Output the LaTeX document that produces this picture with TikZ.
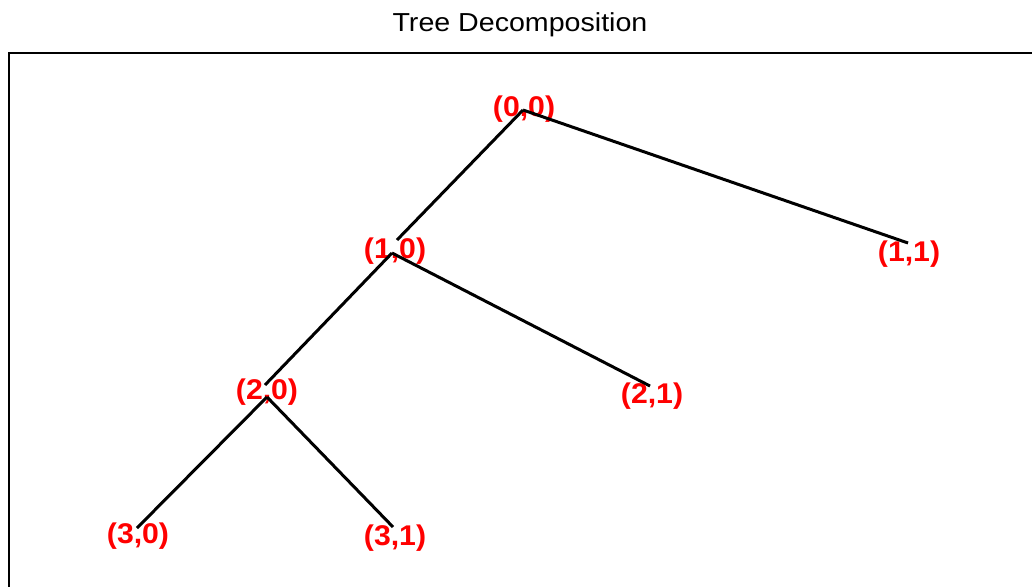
\documentclass[tikz,border=0pt]{standalone}
\usepackage{fontspec}
\usepackage{graphicx}
\setmainfont{Liberation Sans}
\tikzset{
  lbl/.style={text=red, inner sep=0pt, anchor=center, font=\bfseries\fontsize{28.5}{28.5}\selectfont},
  edge/.style={black, line width=3pt},
  frame/.style={black, line width=1.5pt},
  ttl/.style={inner sep=0pt, anchor=base, font=\fontsize{26}{26}\selectfont}
}
\begin{document}
\begin{tikzpicture}[x=1pt,y=-1pt]
\useasboundingbox (0,0) rectangle (1032,586);
\clip (0,0) rectangle (1032,586);
\fill[white] (0,0) rectangle (1032,586);
\node[ttl] (title) at (520,32) {\scalebox{1.1}[1]{Tree Decomposition}};
\coordinate (ftl) at (9,53);
\coordinate (ftr) at (1040,53);
\coordinate (fbl) at (9,600);
\draw[frame] (ftr) -- (ftl) -- (fbl);
% labels
\node[lbl] (l00) at (524,109.5) {\scalebox{1.06}[1]{(0,0)}};
\node[lbl] (l10) at (395,251.5) {\scalebox{1.06}[1]{(1,0)}};
\node[lbl] (l11) at (909,254.5) {\scalebox{1.06}[1]{(1,1)}};
\node[lbl] (l20) at (267,392.5) {\scalebox{1.06}[1]{(2,0)}};
\node[lbl] (l21) at (652,396.5) {\scalebox{1.06}[1]{(2,1)}};
\node[lbl] (l30) at (138,536.5) {\scalebox{1.06}[1]{(3,0)}};
\node[lbl] (l31) at (395,538.5) {\scalebox{1.06}[1]{(3,1)}};
% connection points
\coordinate (b00) at (523,110);
\coordinate (t10) at (397,240);
\coordinate (b10) at (392,253);
\coordinate (t11) at (908,243);
\coordinate (t20) at (265,385);
\coordinate (b20) at (267,397);
\coordinate (t21) at (650,386);
\coordinate (t30) at (137,528);
\coordinate (t31) at (393,527);
\draw[edge] (b00) -- (t10);
\draw[edge] (b00) -- (t11);
\draw[edge] (b10) -- (t20);
\draw[edge] (b10) -- (t21);
\draw[edge] (b20) -- (t30);
\draw[edge] (b20) -- (t31);
\end{tikzpicture}
\end{document}
